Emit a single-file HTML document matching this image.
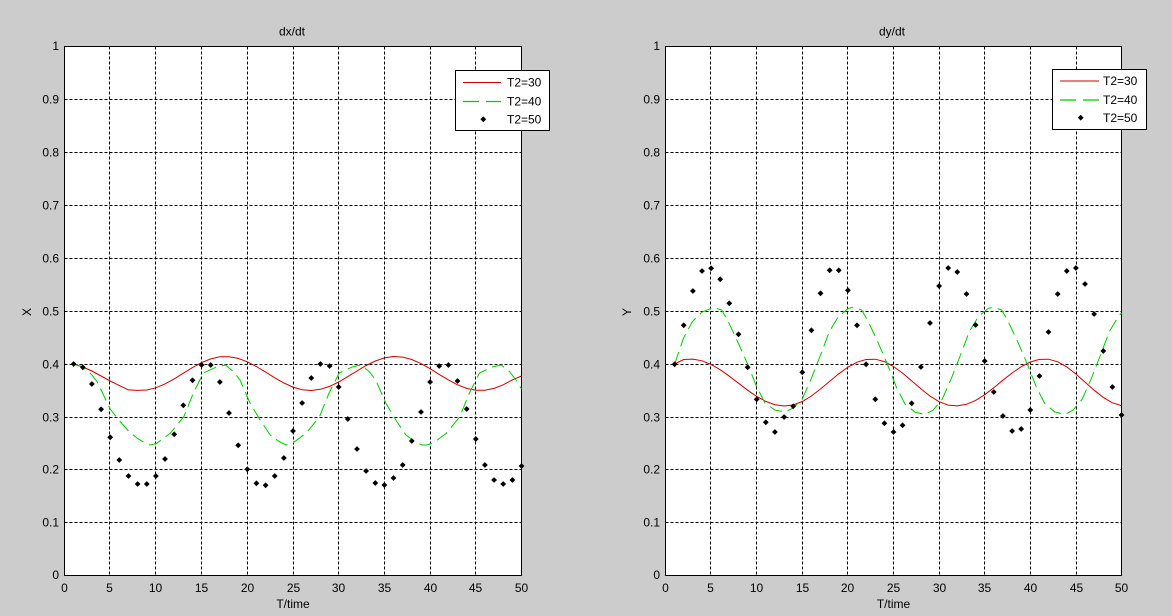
<!DOCTYPE html>
<html><head><meta charset="utf-8"><style>
html,body{margin:0;padding:0;background:#cccccc;}
svg{display:block;font-family:"Liberation Sans",Arial,sans-serif;font-size:12px;}
</style></head><body>
<svg width="1172" height="616" viewBox="0 0 1172 616" xmlns="http://www.w3.org/2000/svg">
<defs><path id="d" d="M-2.9 0L0 -2.9L2.9 0L0 2.9Z" fill="#000"/></defs>
<rect width="1172" height="616" fill="#cccccc"/>

<!-- LEFT AXES -->
<rect x="64.5" y="46.5" width="457" height="529" fill="#fff"/>
<g stroke="#000" stroke-width="1" stroke-dasharray="3,2" fill="none">
<path d="M109.5 46.5V575.5M155.5 46.5V575.5M201.5 46.5V575.5M247.5 46.5V575.5M293.5 46.5V575.5M338.5 46.5V575.5M384.5 46.5V575.5M430.5 46.5V575.5M475.5 46.5V575.5"/>
<path d="M64.5 99.5H521.5M64.5 152.5H521.5M64.5 205.5H521.5M64.5 258.5H521.5M64.5 311.5H521.5M64.5 364.5H521.5M64.5 417.5H521.5M64.5 469.5H521.5M64.5 522.5H521.5"/>
</g>
<rect x="64.5" y="46.5" width="457" height="529" fill="none" stroke="#000"/>

<polyline fill="none" stroke="#d00000" stroke-width="1" points="73.6,364 82.8,367 91.9,371 101.1,376 110.2,381 119.3,385.6 128.5,389.9 137.6,390.4 146.8,390 155.9,387.8 165,383.9 174.2,378.9 183.3,373.2 192.5,367.6 201.6,362.6 210.7,358.9 219.9,356.8 229,356.7 238.2,358.4 247.3,361.8 256.4,366.5 265.6,372.1 274.7,377.8 283.9,383 293,387.1 302.1,389.7 311.3,390.5 320.4,389.3 329.6,386.4 338.7,382 347.8,376.6 357,370.9 366.1,365.5 375.3,361 384.4,357.9 393.5,356.5 402.7,357.1 411.8,359.5 421,363.6 430.1,368.7 439.2,374.4 448.4,379.9 457.5,384.8 466.7,388.4 475.8,390.3 484.9,390.3 494.1,388.4 503.2,384.8 512.4,379.9 521.5,376"/>

<polyline fill="none" stroke="#00cc00" stroke-width="1" stroke-dasharray="13,6" points="73.6,364 82.8,367 91.9,375 97.1,381.7 101.1,390 110.2,409 119.3,420.6 128.5,431 137.6,438.5 146.8,444 150.4,445 156.8,443.3 170.5,433 183.8,416.7 193.4,393 203.4,373 217.1,366.7 225.4,365 233.6,371.7 240,380 250,403 260.1,420 270.2,435 279.3,441.7 286.1,445 292.5,443.3 306.3,433 319.5,416.7 329.1,393 339.2,373 352.9,366.7 361.1,365 369.3,371.7 375.7,380 385.8,403 395.8,420 405.9,435 415,441.7 421.9,445 426.4,445 432.8,443.3 446.6,433 459.8,416.7 469.4,393 479.5,373 493.2,366.7 501.4,365 509.6,371.7 516,380 521.5,389"/>

<g>
<use href="#d" x="73.6" y="364"/><use href="#d" x="82.8" y="367.3"/><use href="#d" x="91.9" y="384"/><use href="#d" x="101.1" y="409.3"/><use href="#d" x="110.2" y="437.3"/>
<use href="#d" x="119.3" y="460"/><use href="#d" x="128.5" y="476"/><use href="#d" x="137.6" y="484"/><use href="#d" x="146.8" y="484"/><use href="#d" x="155.9" y="476"/>
<use href="#d" x="165" y="459"/><use href="#d" x="174.2" y="434.3"/><use href="#d" x="183.3" y="405.3"/><use href="#d" x="192.5" y="380.3"/><use href="#d" x="201.6" y="365"/>
<use href="#d" x="210.7" y="365"/><use href="#d" x="219.9" y="382"/><use href="#d" x="229" y="413"/><use href="#d" x="238.2" y="445.3"/><use href="#d" x="247.3" y="469.3"/>
<use href="#d" x="256.4" y="483.3"/><use href="#d" x="265.6" y="485.3"/><use href="#d" x="274.7" y="476"/><use href="#d" x="283.9" y="458"/><use href="#d" x="293" y="431"/>
<use href="#d" x="302.1" y="403"/><use href="#d" x="311.3" y="378"/><use href="#d" x="320.4" y="364"/><use href="#d" x="329.6" y="366"/><use href="#d" x="338.7" y="387"/>
<use href="#d" x="347.8" y="419"/><use href="#d" x="357" y="449"/><use href="#d" x="366.1" y="471"/><use href="#d" x="375.3" y="483"/><use href="#d" x="384.4" y="485"/>
<use href="#d" x="393.5" y="478"/><use href="#d" x="402.7" y="465"/><use href="#d" x="411.8" y="441"/><use href="#d" x="421" y="412"/><use href="#d" x="430.1" y="382"/>
<use href="#d" x="439.2" y="366"/><use href="#d" x="448.4" y="365"/><use href="#d" x="457.5" y="381"/><use href="#d" x="466.7" y="409"/><use href="#d" x="475.8" y="439"/>
<use href="#d" x="484.9" y="465"/><use href="#d" x="494.1" y="480"/><use href="#d" x="503.2" y="484"/><use href="#d" x="512.4" y="480"/><use href="#d" x="521.5" y="466"/>
</g>

<g fill="#000" text-anchor="end">
<text x="59" y="50">1</text><text x="59" y="103.5">0.9</text><text x="59" y="156.5">0.8</text><text x="59" y="209.5">0.7</text><text x="59" y="262.5">0.6</text><text x="59" y="315.5">0.5</text><text x="59" y="368.5">0.4</text><text x="59" y="421.5">0.3</text><text x="59" y="473.5">0.2</text><text x="59" y="526.5">0.1</text><text x="59" y="579">0</text>
</g>
<g fill="#000" text-anchor="middle">
<text x="64.5" y="592">0</text><text x="109.5" y="592">5</text><text x="155.5" y="592">10</text><text x="201.5" y="592">15</text><text x="247.5" y="592">20</text><text x="293.5" y="592">25</text><text x="338.5" y="592">30</text><text x="384.5" y="592">35</text><text x="430.5" y="592">40</text><text x="475.5" y="592">45</text><text x="521.5" y="592">50</text>
<text x="293" y="608">T/time</text>
<text x="292" y="35.5">dx/dt</text>
<text transform="translate(31,312) rotate(-90)">X</text>
</g>

<!-- left legend -->
<rect x="455.5" y="70.5" width="94" height="60" fill="#fff" stroke="#000"/>
<path d="M463 82.5H501" stroke="#d00000" stroke-width="1"/>
<path d="M463 101.5H479M486 101.5H501" stroke="#00cc00" stroke-width="1.2"/>
<use href="#d" x="483.3" y="119.3"/>
<g fill="#000"><text x="507" y="86.5">T2=30</text><text x="507" y="105.5">T2=40</text><text x="507" y="123.5">T2=50</text></g>

<!-- RIGHT AXES -->
<rect x="665.5" y="46.5" width="456" height="529" fill="#fff"/>
<g stroke="#000" stroke-width="1" stroke-dasharray="3,2" fill="none">
<path d="M710.5 46.5V575.5M756.5 46.5V575.5M802.5 46.5V575.5M847.5 46.5V575.5M893.5 46.5V575.5M939.5 46.5V575.5M984.5 46.5V575.5M1030.5 46.5V575.5M1076.5 46.5V575.5"/>
<path d="M665.5 99.5H1121.5M665.5 152.5H1121.5M665.5 205.5H1121.5M665.5 258.5H1121.5M665.5 311.5H1121.5M665.5 364.5H1121.5M665.5 417.5H1121.5M665.5 469.5H1121.5M665.5 522.5H1121.5"/>
</g>
<rect x="665.5" y="46.5" width="456" height="529" fill="none" stroke="#000"/>

<polyline fill="none" stroke="#d00000" stroke-width="1" points="674.6,364 683.7,359.5 692.9,359.1 702,360.8 711.1,364.5 720.2,369.7 729.3,376.2 738.5,383.2 747.6,390.2 756.7,396.4 765.8,401.4 774.9,404.7 784.1,406 793.2,405 802.3,401.5 811.4,396 820.5,389 829.7,381.3 838.8,373.8 847.9,367.2 857,362.2 866.1,359.5 875.3,359.2 884.4,361.6 893.5,366.5 902.6,373.1 911.7,380.9 920.9,388.8 930,396.1 939.1,401.7 948.2,405.1 957.3,405.9 966.5,404.3 975.6,400.4 984.7,394.7 993.8,387.7 1002.9,380.2 1012.1,373 1021.2,366.7 1030.3,362 1039.4,359.4 1048.5,359.2 1057.7,361.8 1066.8,366.9 1075.9,374 1085,382.1 1094.1,390.2 1103.3,397.4 1112.4,402.8 1121.5,405.6"/>

<polyline fill="none" stroke="#00cc00" stroke-width="1" stroke-dasharray="13,6" points="674.6,364.3 683.4,338.3 692.3,321.7 701.7,312.3 713.4,307.3 721.7,310 728.3,321.7 738.4,343.3 747.3,363.3 756.3,386 765,403 774.9,410 785,412 793.2,408 802.3,399 811.4,378.3 820.5,355 829.3,331.7 838.3,316.7 848.4,308.3 853.4,307.3 861.7,310 868.3,321.7 878.4,343.3 887.3,364 896.3,387 905,404 914.9,412 925,414.5 933.2,410 942.3,399 951.4,378.3 960.5,355 969.3,331.7 978.3,316.7 988.3,308.3 993.4,307.3 1001.7,310 1008.3,321.7 1018.4,343.3 1027.3,364 1036.3,387 1045,404 1054.9,412 1065,414.5 1073.2,410 1082.3,399 1091.4,378.3 1100.5,355 1109.3,331.7 1118.3,316.7 1121.5,313"/>

<g>
<use href="#d" x="674.6" y="364.3"/><use href="#d" x="683.7" y="325.3"/><use href="#d" x="692.9" y="291"/><use href="#d" x="702" y="271"/><use href="#d" x="711.1" y="268.3"/>
<use href="#d" x="720.2" y="279.3"/><use href="#d" x="729.3" y="303.3"/><use href="#d" x="738.5" y="334.3"/><use href="#d" x="747.6" y="367.3"/><use href="#d" x="756.7" y="399.3"/>
<use href="#d" x="765.8" y="422.3"/><use href="#d" x="774.9" y="432"/><use href="#d" x="784.1" y="417"/><use href="#d" x="793.2" y="406.3"/><use href="#d" x="802.3" y="372.3"/>
<use href="#d" x="811.4" y="330.3"/><use href="#d" x="820.5" y="293.3"/><use href="#d" x="829.7" y="270.3"/><use href="#d" x="838.8" y="270.3"/><use href="#d" x="847.9" y="290.3"/>
<use href="#d" x="857" y="325.3"/><use href="#d" x="866.1" y="364.3"/><use href="#d" x="875.3" y="399.3"/><use href="#d" x="884.4" y="423.3"/><use href="#d" x="893.5" y="432"/>
<use href="#d" x="902.6" y="425.3"/><use href="#d" x="911.7" y="403.3"/><use href="#d" x="920.9" y="367"/><use href="#d" x="930" y="323"/><use href="#d" x="939.1" y="286"/>
<use href="#d" x="948.2" y="268"/><use href="#d" x="957.3" y="272"/><use href="#d" x="966.5" y="294"/><use href="#d" x="975.6" y="325"/><use href="#d" x="984.7" y="361"/>
<use href="#d" x="993.8" y="392"/><use href="#d" x="1002.9" y="416"/><use href="#d" x="1012.1" y="431"/><use href="#d" x="1021.2" y="429"/><use href="#d" x="1030.3" y="410"/>
<use href="#d" x="1039.4" y="376"/><use href="#d" x="1048.5" y="332"/><use href="#d" x="1057.7" y="294"/><use href="#d" x="1066.8" y="271"/><use href="#d" x="1075.9" y="268"/>
<use href="#d" x="1085" y="284"/><use href="#d" x="1094.1" y="314"/><use href="#d" x="1103.3" y="351"/><use href="#d" x="1112.4" y="387"/><use href="#d" x="1121.5" y="415"/>
</g>

<g fill="#000" text-anchor="end">
<text x="660" y="50">1</text><text x="660" y="103.5">0.9</text><text x="660" y="156.5">0.8</text><text x="660" y="209.5">0.7</text><text x="660" y="262.5">0.6</text><text x="660" y="315.5">0.5</text><text x="660" y="368.5">0.4</text><text x="660" y="421.5">0.3</text><text x="660" y="473.5">0.2</text><text x="660" y="526.5">0.1</text><text x="660" y="579">0</text>
</g>
<g fill="#000" text-anchor="middle">
<text x="665.5" y="592">0</text><text x="710.5" y="592">5</text><text x="756.5" y="592">10</text><text x="802.5" y="592">15</text><text x="847.5" y="592">20</text><text x="893.5" y="592">25</text><text x="939.5" y="592">30</text><text x="984.5" y="592">35</text><text x="1030.5" y="592">40</text><text x="1076.5" y="592">45</text><text x="1121.5" y="592">50</text>
<text x="893.5" y="608">T/time</text>
<text x="892" y="35.5">dy/dt</text>
<text transform="translate(631,312) rotate(-90)">Y</text>
</g>

<!-- right legend -->
<rect x="1052.5" y="69.5" width="94" height="60" fill="#fff" stroke="#000"/>
<path d="M1060 81H1099" stroke="#d00000" stroke-width="1"/>
<path d="M1060 100H1076M1083 100H1099" stroke="#00cc00" stroke-width="1.2"/>
<use href="#d" x="1080.7" y="117.7"/>
<g fill="#000"><text x="1103" y="85">T2=30</text><text x="1103" y="104">T2=40</text><text x="1103" y="122">T2=50</text></g>
</svg>
</body></html>
